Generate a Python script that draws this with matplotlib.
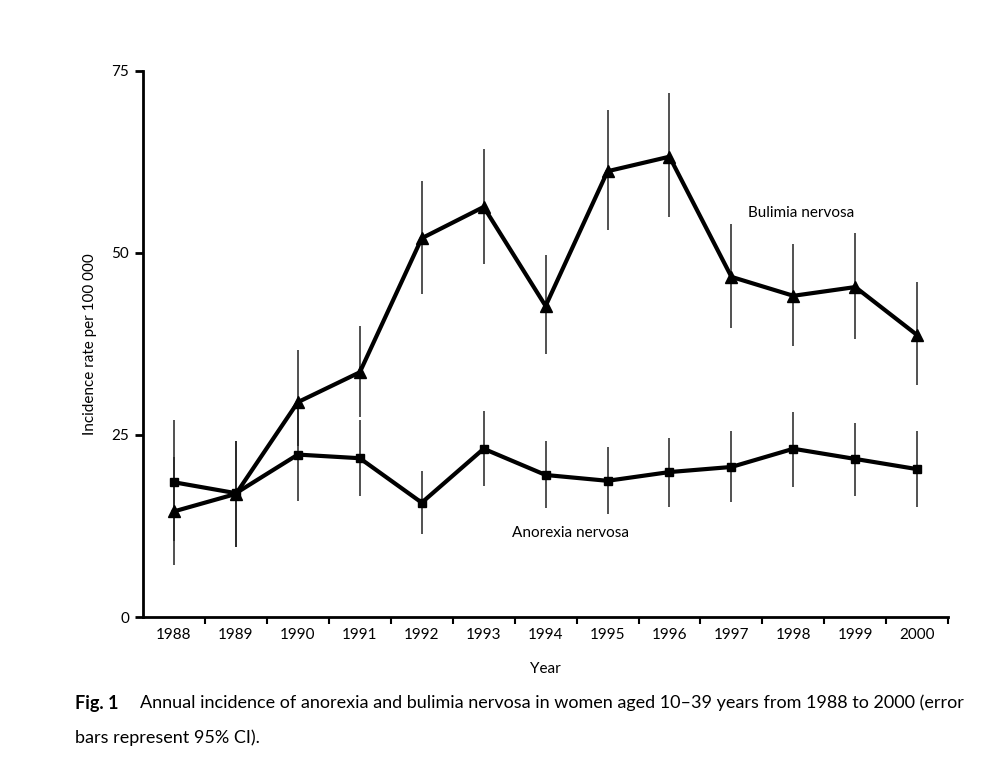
import matplotlib.pyplot as plt

plt.rcParams['font.family'] = ['Lato', 'DejaVu Sans']

years = [1988, 1989, 1990, 1991, 1992, 1993, 1994, 1995, 1996, 1997, 1998, 1999, 2000]

# bulimia nervosa: rate and 95% CI
bulimia = [14.5, 16.9, 29.5, 33.6, 52.0, 56.3, 42.7, 61.2, 63.2, 46.7, 44.1, 45.3, 38.7]
bulimia_lo = [7.2, 9.6, 23.5, 27.5, 44.4, 48.5, 36.1, 53.2, 54.9, 39.7, 37.2, 38.2, 31.8]
bulimia_hi = [22.0, 24.1, 36.7, 39.9, 59.8, 64.2, 49.7, 69.6, 71.9, 54.0, 51.2, 52.7, 46.0]

# anorexia nervosa: rate and 95% CI
anorexia = [18.5, 17.0, 22.3, 21.8, 15.7, 23.1, 19.5, 18.7, 19.9, 20.6, 23.1, 21.7, 20.3]
anorexia_lo = [10.5, 9.6, 15.9, 16.6, 11.4, 18.0, 14.9, 14.2, 15.1, 15.8, 17.9, 16.6, 15.1]
anorexia_hi = [27.0, 24.1, 28.5, 27.0, 20.0, 28.3, 24.2, 23.3, 24.6, 25.5, 28.2, 26.7, 25.5]

fig = plt.figure(figsize=(9.96, 7.68), dpi=100)
ax = fig.add_axes([0.1436, 0.1966, 0.8084, 0.7113])

# error bars (no caps)
ax.vlines(years, bulimia_lo, bulimia_hi, color='#222222', linewidth=1.1)
ax.vlines(years, anorexia_lo, anorexia_hi, color='#222222', linewidth=1.1)

ax.plot(years, bulimia, color='black', linewidth=3, marker='^', markersize=8)
ax.plot(years, anorexia, color='black', linewidth=3, marker='s', markersize=6)

ax.text(1997.27, 55.5, 'Bulimia nervosa', fontsize=11, ha='left', va='center')
ax.text(1993.45, 11.6, 'Anorexia nervosa', fontsize=11, ha='left', va='center')

ax.set_xlim(1987.5, 2000.5)
ax.set_ylim(0, 75)

ax.spines['top'].set_visible(False)
ax.spines['right'].set_visible(False)
ax.spines['left'].set_linewidth(2)
ax.spines['bottom'].set_linewidth(2)

ax.set_yticks([0, 25, 50, 75])
ax.tick_params(axis='y', length=6, width=2, labelsize=11, pad=4)

# year labels between the boundary ticks
ax.set_xticks([y + 0.5 for y in years])
ax.set_xticklabels([])
ax.set_xticks(years, minor=True)
ax.set_xticklabels([str(y) for y in years], minor=True)
ax.tick_params(axis='x', which='major', length=5, width=1.5)
ax.tick_params(axis='x', which='minor', length=0, labelsize=11, pad=8)

ax.set_xlabel('Year', fontsize=11, labelpad=14)
ax.set_ylabel('Incidence rate per 100 000', fontsize=11, labelpad=10)

fig.text(75 / 996, 1 - 703 / 768, 'Fig. 1', fontsize=13, fontweight='bold',
         ha='left', va='center')
fig.text(140 / 996, 1 - 703 / 768,
         'Annual incidence of anorexia and bulimia nervosa in women aged 10\u201339 years from 1988 to 2000 (error',
         fontsize=13, ha='left', va='center')
fig.text(75 / 996, 1 - 738 / 768, 'bars represent 95% CI).', fontsize=13,
         ha='left', va='center')

fig.savefig('out.png', dpi=100)
